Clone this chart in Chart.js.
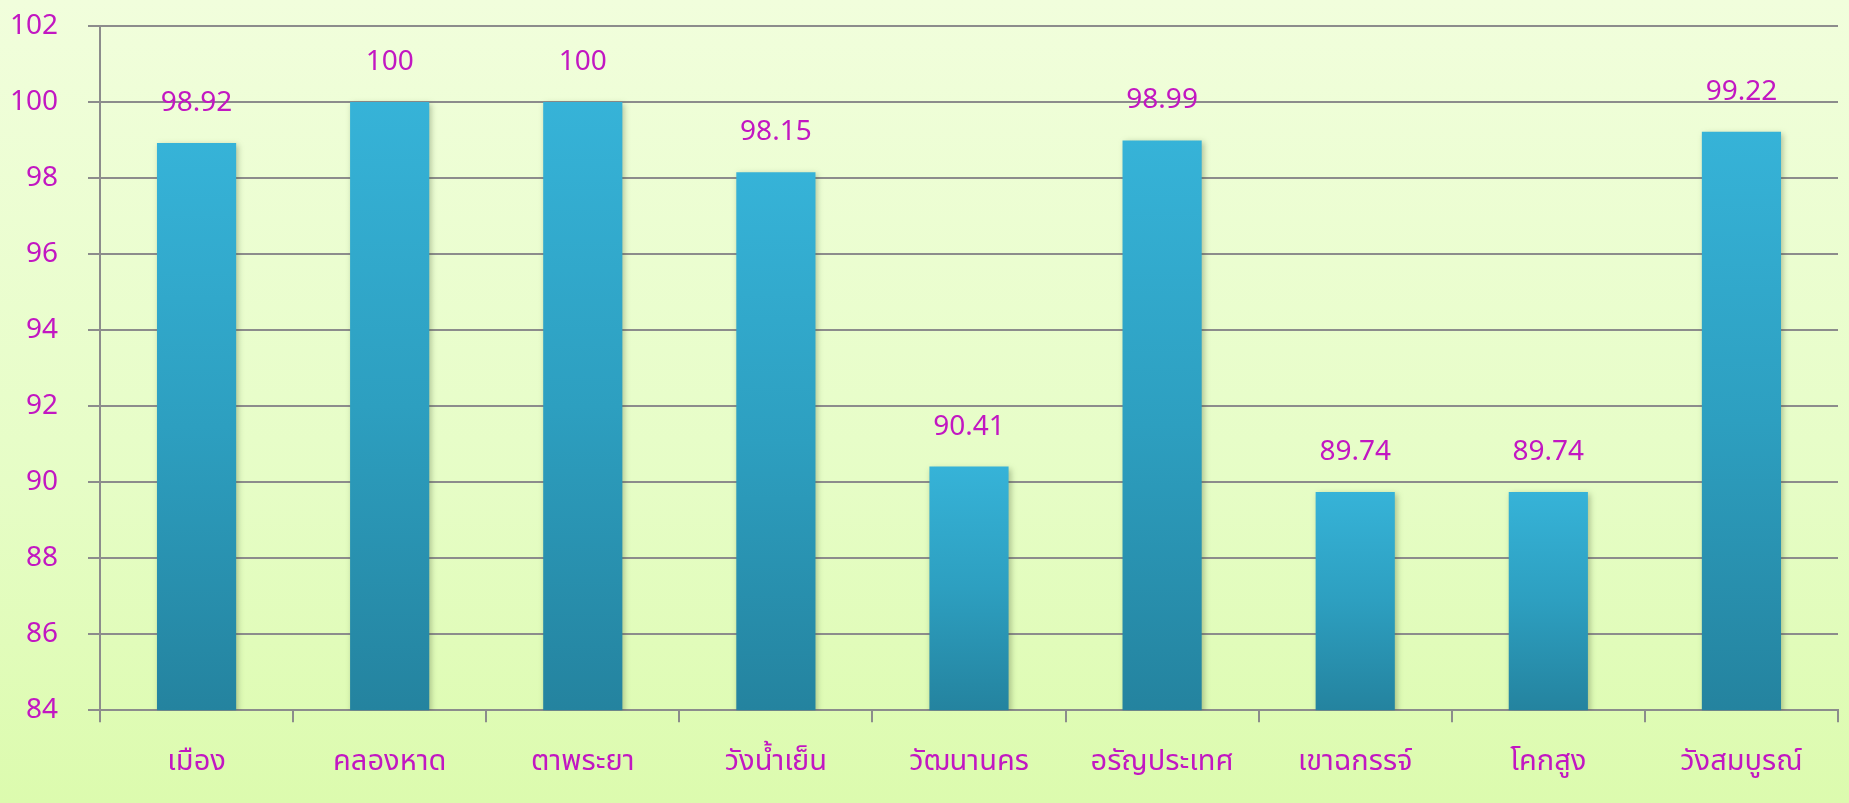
<!DOCTYPE html>
<html>
<head>
<meta charset="utf-8">
<script src="https://cdn.jsdelivr.net/npm/chart.js@4.4.1/dist/chart.umd.min.js"></script>
<style>
  html, body { margin: 0; padding: 0; }
  body {
    width: 1849px; height: 803px; overflow: hidden;
    background: linear-gradient(to bottom, #f1fedc 0%, #e6fdc6 60%, #dcfbae 100%);
  }
  #wrap { position: relative; width: 1849px; height: 803px; }
</style>
</head>
<body>
<div id="wrap"><canvas id="chart"></canvas></div>
<script>
// categories and values
const districts = ["เมือง", "คลองหาด", "ตาพระยา", "วังน้ำเย็น", "วัฒนานคร", "อรัญประเทศ", "เขาฉกรรจ์", "โคกสูง", "วังสมบูรณ์"];
const percents = [98.92, 100, 100, 98.15, 90.41, 98.99, 89.74, 89.74, 99.22];
const yTicks = [84, 86, 88, 90, 92, 94, 96, 98, 100, 102];

const magenta = "#c217c2";
const fontFam = "'Noto Sans', 'Noto Sans Thai', Tahoma, sans-serif";

// dégradé vertical pour chaque barre
function barGradient(context) {
  const chart = context.chart;
  const area = chart.chartArea;
  if (!area || context.raw === undefined) return "#30a8cc";
  const y = chart.scales.y;
  const top = y.getPixelForValue(context.raw);
  const bottom = y.getPixelForValue(yTicks[0]);
  const g = chart.ctx.createLinearGradient(0, top, 0, bottom);
  g.addColorStop(0, "#36b3d8");
  g.addColorStop(0.5, "#2d9fc0");
  g.addColorStop(1, "#24839f");
  return g;
}

// ombre légère sous les barres
const shadowPlugin = {
  id: "barShadow",
  beforeDatasetsDraw(chart) {
    const ctx = chart.ctx;
    ctx.save();
    ctx.shadowColor = "rgba(60, 80, 40, 0.35)";
    ctx.shadowBlur = 6;
    ctx.shadowOffsetX = 2;
    ctx.shadowOffsetY = 2;
  },
  afterDatasetsDraw(chart) {
    chart.ctx.restore();
  }
};

// valeurs au-dessus des barres
const valueLabels = {
  id: "valueLabels",
  afterDatasetsDraw(chart) {
    const ctx = chart.ctx;
    const meta = chart.getDatasetMeta(0);
    ctx.save();
    ctx.fillStyle = magenta;
    ctx.font = "28px " + fontFam;
    ctx.textAlign = "center";
    ctx.textBaseline = "middle";
    meta.data.forEach((bar, i) => {
      ctx.fillText(String(percents[i]), bar.x, bar.y - 40);
    });
    ctx.restore();
  }
};

new Chart(document.getElementById("chart"), {
  type: "bar",
  data: {
    labels: districts,
    datasets: [{
      data: percents,
      backgroundColor: barGradient,
      borderWidth: 0,
      categoryPercentage: 1,
      barPercentage: 0.41
    }]
  },
  options: {
    responsive: true,
    maintainAspectRatio: false,
    animation: false,
    layout: { padding: { left: 8, right: 11, top: 26, bottom: 2 } },
    plugins: {
      legend: { display: false },
      tooltip: { enabled: false }
    },
    scales: {
      y: {
        min: 84,
        max: 102,
        afterBuildTicks(scale) {
          scale.ticks = yTicks.map(v => ({ value: v }));
        },
        afterFit(scale) {
          scale.width = 92;
          scale.paddingTop = 0;
          scale.paddingBottom = 0;
        },
        border: { display: true, color: "#8c8c8c", width: 2 },
        grid: { color: "#8c8c8c", lineWidth: 2, tickLength: 12 },
        ticks: {
          color: magenta,
          font: { family: fontFam, size: 28 },
          padding: 30
        }
      },
      x: {
        border: { display: true, color: "#8c8c8c", width: 2 },
        grid: {
          offset: true,
          drawOnChartArea: false,
          color: "#8c8c8c",
          lineWidth: 2,
          tickLength: 12
        },
        ticks: {
          color: magenta,
          font: { family: fontFam, size: 29 },
          padding: 22,
          maxRotation: 0
        }
      }
    }
  },
  plugins: [shadowPlugin, valueLabels]
});
</script>
</body>
</html>
